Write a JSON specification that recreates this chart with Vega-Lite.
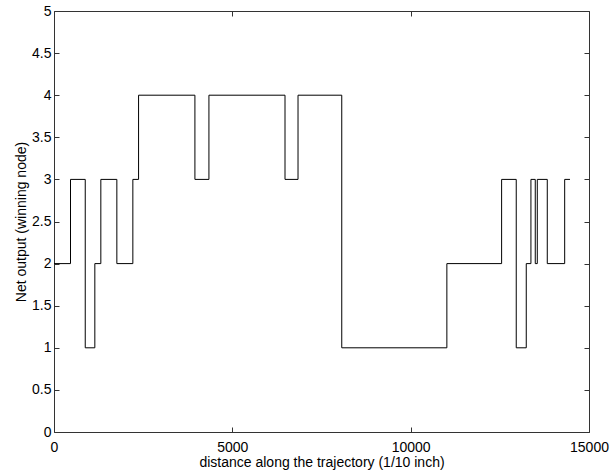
{
  "$schema": "https://vega.github.io/schema/vega-lite/v6.json",
  "width": 535,
  "height": 421,
  "autosize": "none",
  "padding": {"left": 54, "top": 11, "right": 24, "bottom": 40},
  "background": "white",
  "config": {
    "view": {"stroke": "#333333", "strokeWidth": 1},
    "font": "Liberation Sans",
    "axis": {
      "domain": false,
      "grid": false,
      "tickSize": -5,
      "tickColor": "#333333",
      "labelFont": "Liberation Sans",
      "titleFont": "Liberation Sans",
      "labelFontSize": 14,
      "titleFontSize": 14,
      "titleFontWeight": "normal",
      "labelColor": "black",
      "titleColor": "black"
    }
  },
  "data": {"values": [
    {"d": 0, "v": 2},
    {"d": 463, "v": 3},
    {"d": 876, "v": 1},
    {"d": 1145, "v": 2},
    {"d": 1313, "v": 3},
    {"d": 1762, "v": 2},
    {"d": 2211, "v": 3},
    {"d": 2371, "v": 4},
    {"d": 3951, "v": 3},
    {"d": 4344, "v": 4},
    {"d": 6477, "v": 3},
    {"d": 6842, "v": 4},
    {"d": 8068, "v": 1},
    {"d": 11015, "v": 2},
    {"d": 12550, "v": 3},
    {"d": 12960, "v": 1},
    {"d": 13241, "v": 2},
    {"d": 13372, "v": 3},
    {"d": 13493, "v": 2},
    {"d": 13550, "v": 3},
    {"d": 13830, "v": 2},
    {"d": 14318, "v": 3},
    {"d": 14467, "v": 3}
  ]},
  "layer": [
    {
      "mark": {"type": "line", "interpolate": "step-after", "color": "black", "strokeWidth": 1},
      "encoding": {
        "x": {"field": "d", "type": "quantitative", "scale": {"domain": [0, 15000], "nice": false, "zero": false},
              "axis": {"values": [0, 5000, 10000, 15000], "format": "d", "labelPadding": 13, "title": "distance along the trajectory (1/10 inch)", "titlePadding": 1, "labelFlush": false}},
        "y": {"field": "v", "type": "quantitative", "scale": {"domain": [0, 5], "nice": false},
              "axis": {"values": [0, 0.5, 1, 1.5, 2, 2.5, 3, 3.5, 4, 4.5, 5], "format": "~g", "labelPadding": 8, "title": "Net output (winning node)", "titlePadding": 3}}
      }
    },
    {
      "mark": {"type": "line", "interpolate": "step-after", "color": "black", "strokeWidth": 1, "opacity": 0},
      "encoding": {
        "x": {"field": "d", "type": "quantitative", "axis": {"orient": "top", "values": [0, 5000, 10000, 15000], "labels": false, "title": null}},
        "y": {"field": "v", "type": "quantitative", "axis": {"orient": "right", "values": [0, 0.5, 1, 1.5, 2, 2.5, 3, 3.5, 4, 4.5, 5], "labels": false, "title": null}}
      }
    }
  ],
  "resolve": {"axis": {"x": "independent", "y": "independent"}}
}
